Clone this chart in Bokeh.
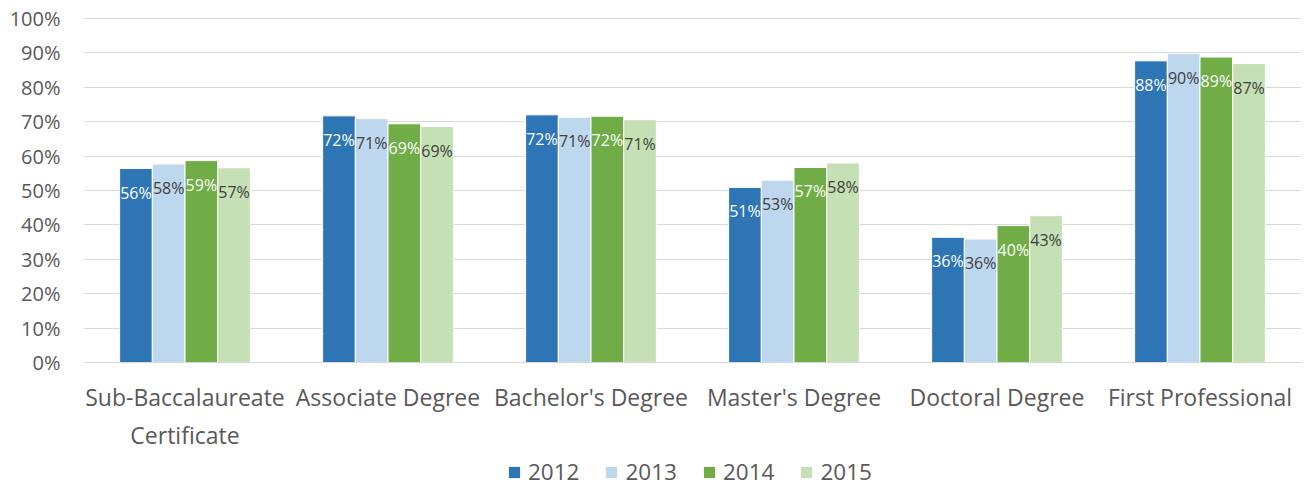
from bokeh.plotting import figure
from bokeh.layouts import column
from bokeh.models import (ColumnDataSource, FactorRange, NumeralTickFormatter, Legend,
                          LegendItem, Range1d, FixedTicker)
from bokeh.transform import dodge
from bokeh.core.properties import value
from bokeh.embed import file_html
from bokeh.resources import INLINE

categories = ["Sub-Baccalaureate\nCertificate", "Associate Degree", "Bachelor's Degree",
              "Master's Degree", "Doctoral Degree", "First Professional"]
years = ["2012", "2013", "2014", "2015"]
v2012 = [0.564, 0.717, 0.720, 0.509, 0.364, 0.877]
v2013 = [0.577, 0.709, 0.713, 0.530, 0.359, 0.898]
v2014 = [0.587, 0.694, 0.716, 0.567, 0.398, 0.888]
v2015 = [0.566, 0.686, 0.706, 0.580, 0.427, 0.869]
y_ticks = [0.0, 0.1, 0.2, 0.3, 0.4, 0.5, 0.6, 0.7, 0.8, 0.9, 1.0]

series = {"2012": v2012, "2013": v2013, "2014": v2014, "2015": v2015}
colors = {"2012": "#2E75B6", "2013": "#BDD7EE", "2014": "#70AD47", "2015": "#C5E0B4"}
label_colors = {"2012": "#FFFFFF", "2013": "#404040", "2014": "#FFFFFF", "2015": "#404040"}
offsets = {"2012": -0.2415, "2013": -0.0805, "2014": 0.0805, "2015": 0.2415}
BAR_W = 0.161
FONT = "Open Sans"
AXIS_COLOR = "#595959"
W = 1303

data = {"cat": categories}
for y in years:
    data[y] = series[y]
    data["lbl" + y] = [f"{round(v * 100)}%" for v in series[y]]
src = ColumnDataSource(data)

p = figure(x_range=FactorRange(*categories, range_padding=0), y_range=Range1d(0, 1.003),
           width=W, height=455, output_backend="svg", toolbar_location=None,
           min_border_left=83, min_border_right=2, min_border_top=17, min_border_bottom=93)
p.outline_line_color = None

for y in years:
    p.vbar(x=dodge("cat", offsets[y], range=p.x_range), top=y, width=BAR_W, source=src,
           fill_color=colors[y], line_color="white", line_width=1)
    p.text(x=dodge("cat", offsets[y], range=p.x_range), y=y, text="lbl" + y, source=src,
           y_offset=24, text_align="center", text_baseline="middle",
           text_color=label_colors[y], text_font=value(FONT), text_font_size="16px")

p.xgrid.grid_line_color = None
p.ygrid.grid_line_color = "#D9D9D9"
p.ygrid.grid_line_width = 1

p.yaxis.ticker = FixedTicker(ticks=y_ticks)
p.yaxis.formatter = NumeralTickFormatter(format="0%")
p.yaxis.axis_line_color = None
p.yaxis.major_tick_line_color = None
p.yaxis.minor_tick_line_color = None
p.yaxis.major_tick_out = 0
p.yaxis.major_label_standoff = 23
p.yaxis.major_label_text_font = FONT
p.yaxis.major_label_text_font_size = "20px"
p.yaxis.major_label_text_color = AXIS_COLOR

p.xaxis.axis_line_color = "#D9D9D9"
p.xaxis.major_tick_line_color = None
p.xaxis.major_tick_out = 0
p.xaxis.major_label_standoff = 18
p.xaxis.major_label_text_font = FONT
p.xaxis.major_label_text_font_size = "23px"
p.xaxis.major_label_text_color = AXIS_COLOR

# legend strip below the chart (its frame is aligned with the chart frame by the column)
leg = figure(width=W, height=32, output_backend="svg", toolbar_location=None,
             x_range=Range1d(0, 1), y_range=Range1d(0, 1), min_border=0)
leg.axis.visible = False
leg.grid.visible = False
leg.outline_line_color = None
items = []
for y in years:
    # hidden swatch renderer: only its legend glyph is shown
    r = leg.vbar(x=[0.5], top=[1], width=0.1, fill_color=colors[y], line_color=None)
    r.visible = False
    items.append(LegendItem(label=y, renderers=[r]))
legend = Legend(items=items, orientation="horizontal", location=(424, 0),
                glyph_width=14, glyph_height=14, label_standoff=7, spacing=25,
                label_text_font=FONT, label_text_font_size="22.5px", label_text_color=AXIS_COLOR,
                inactive_fill_alpha=0, click_policy="none",
                border_line_color=None, background_fill_alpha=0, padding=0, margin=0)
leg.add_layout(legend, "center")

open("out.html", "w").write(file_html(column(p, leg), INLINE))
